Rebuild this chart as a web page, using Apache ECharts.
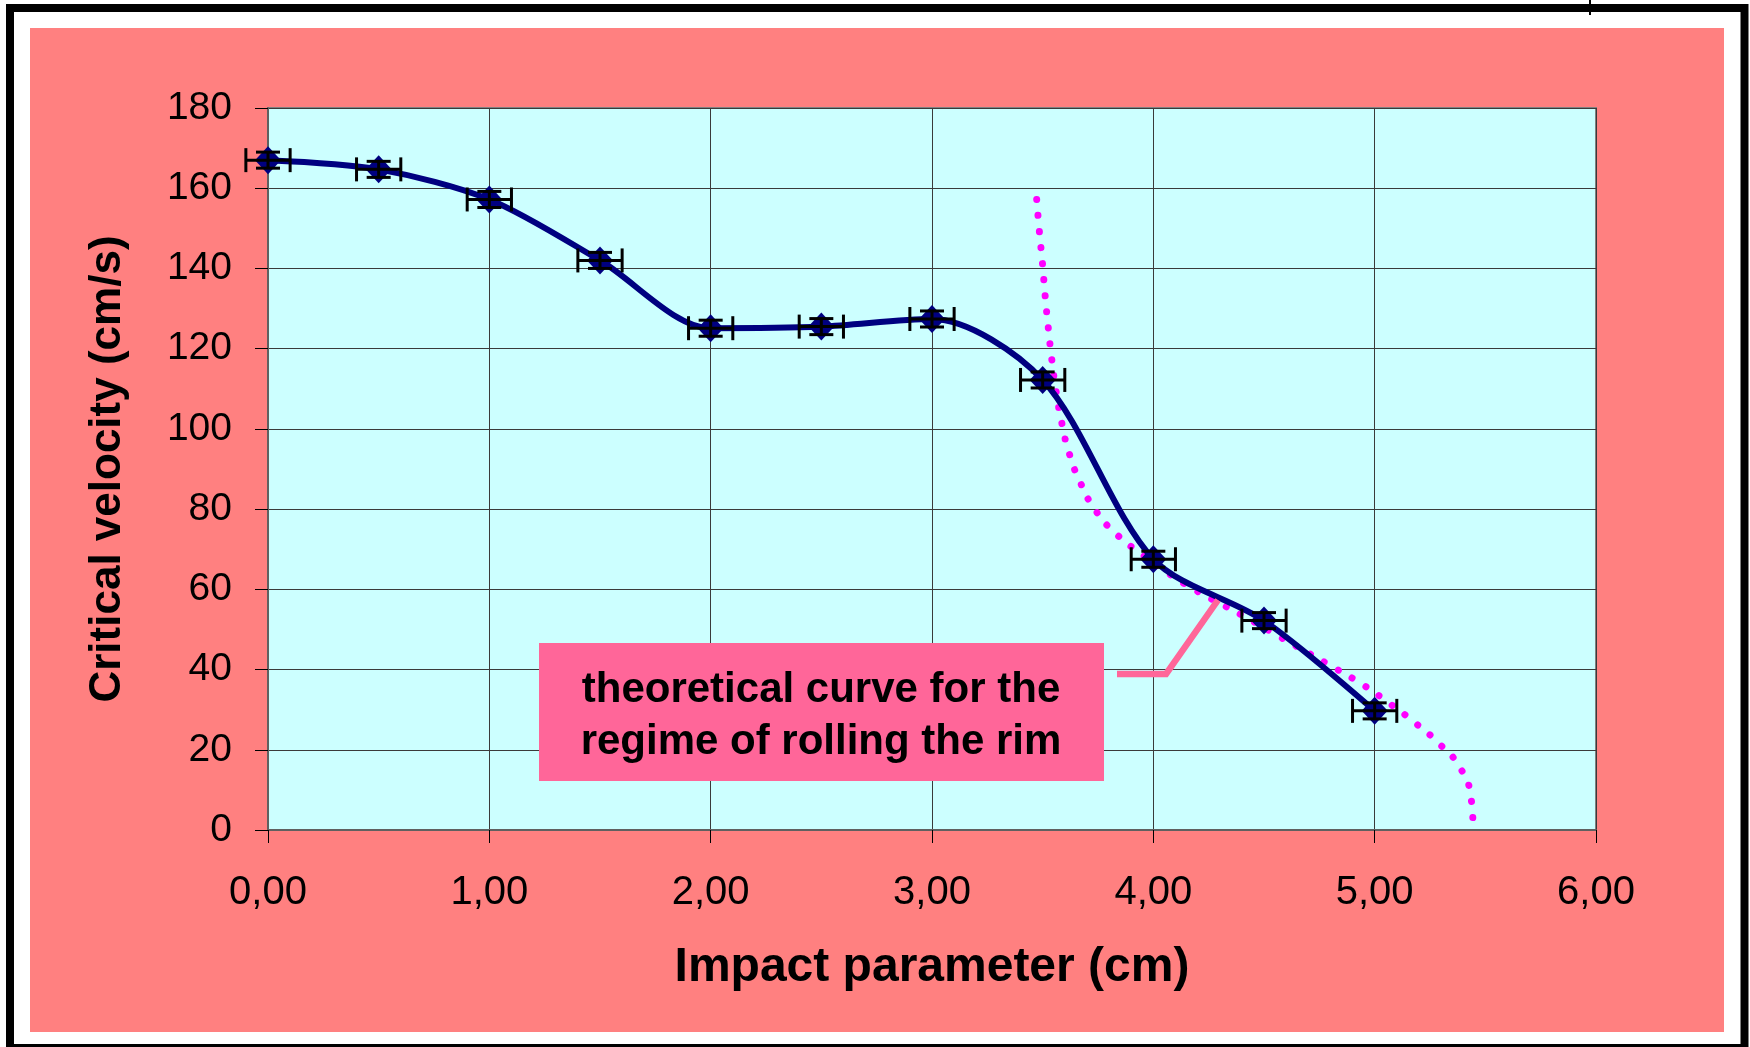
<!DOCTYPE html>
<html>
<head>
<meta charset="utf-8">
<title>Critical velocity vs impact parameter</title>
<script src="https://cdn.jsdelivr.net/npm/echarts@6/dist/echarts.min.js"></script>
<style>
  html, body { margin: 0; padding: 0; background: #ffffff; }
  #chartContainer { width: 1750px; height: 1047px; }
</style>
</head>
<body>
<div id="chartContainer"></div>
<script>
"use strict"

// measured points (impact parameter in cm, critical velocity in cm/s)
const impactParameter = [0, 0.5, 1, 1.5, 2, 2.5, 3, 3.5, 4, 4.5, 5];
const criticalVelocity = [167, 164.7, 157.2, 142, 125.1, 125.5, 127.4, 112.2, 67.5, 52.2, 29.7];
const xError = [0.1, 0.1, 0.1, 0.1, 0.1, 0.1, 0.1, 0.1, 0.1, 0.1, 0.1];
const yError = [2, 2, 2, 2, 2, 2, 2, 2, 2, 2, 2];

// theoretical curve, rolling the rim
const theoryX = [3.473, 3.485, 3.499, 3.511, 3.525, 3.541, 3.56, 3.586, 3.62, 3.672, 3.741, 3.838, 3.952,
                 4.068, 4.193, 4.318, 4.445, 4.57, 4.695, 4.822, 4.947, 5.066, 5.181, 5.29, 5.385, 5.435, 5.445];
const theoryY = [157.2, 149.3, 141.3, 133.3, 125.4, 117.4, 109.6, 101.6, 93.9, 86.4, 79.5, 73.5, 68.6,
                 64.0, 59.7, 56.0, 52.2, 48.2, 44.3, 40.3, 36.2, 31.6, 26.8, 21.6, 15.6, 8.2, 0];

const yTicks = [0, 20, 40, 60, 80, 100, 120, 140, 160, 180];
const xTicks = [0, 1, 2, 3, 4, 5, 6];

const calloutText = "theoretical curve for the\nregime of rolling the rim";

const measured = impactParameter.map((x, i) => [x, criticalVelocity[i]]);
const errorData = impactParameter.map((x, i) => [x, criticalVelocity[i], xError[i], yError[i]]);
const theory = theoryX.map((x, i) => [x, theoryY[i]]);

const renderErrorBar = (params, api) => {
    const x = api.value(0);
    const y = api.value(1);
    const ex = api.value(2);
    const ey = api.value(3);
    const left = api.coord([x - ex, y]);
    const right = api.coord([x + ex, y]);
    const top = api.coord([x, y + ey]);
    const bottom = api.coord([x, y - ey]);
    const capH = 12;
    const capW = 12;
    const style = { stroke: "#000000", lineWidth: 3 };
    const seg = (x1, y1, x2, y2) => ({ type: "line", shape: { x1, y1, x2, y2 }, style });
    return {
        type: "group",
        children: [
            seg(left[0], left[1], right[0], right[1]),
            seg(left[0], left[1] - capH, left[0], left[1] + capH),
            seg(right[0], right[1] - capH, right[0], right[1] + capH),
            seg(top[0], top[1], bottom[0], bottom[1]),
            seg(top[0] - capW, top[1], top[0] + capW, top[1]),
            seg(bottom[0] - capW, bottom[1], bottom[0] + capW, bottom[1])
        ]
    };
};

const chart = echarts.init(document.getElementById("chartContainer"));

chart.setOption({
    animation: false,
    backgroundColor: "#ffffff",
    grid: {
        left: 268,
        top: 108,
        right: 154,
        bottom: 217,
        show: true,
        backgroundColor: "#CCFFFF",
        borderColor: "#808080",
        borderWidth: 2
    },
    xAxis: {
        type: "value",
        min: xTicks[0],
        max: xTicks[xTicks.length - 1],
        interval: 1,
        name: "Impact parameter (cm)",
        nameLocation: "middle",
        nameGap: 114,
        nameTextStyle: { fontFamily: "Liberation Sans", fontWeight: "bold", fontSize: 48, color: "#000000" },
        axisLine: { lineStyle: { color: "#606060", width: 2 } },
        axisTick: { show: true, length: 13, lineStyle: { color: "#000000", width: 1 } },
        axisLabel: {
            margin: 43,
            fontFamily: "Liberation Sans",
            fontSize: 40,
            color: "#000000",
            formatter: (v) => v.toFixed(2).replace(".", ",")
        },
        splitLine: { show: true, lineStyle: { color: "#3a3a3a", width: 1 } }
    },
    yAxis: {
        type: "value",
        min: yTicks[0],
        max: yTicks[yTicks.length - 1],
        interval: 20,
        name: "Critical velocity (cm/s)",
        nameLocation: "middle",
        nameGap: 138,
        nameTextStyle: { fontFamily: "Liberation Sans", fontWeight: "bold", fontSize: 44, color: "#000000" },
        axisLine: { show: true, lineStyle: { color: "#606060", width: 2 } },
        axisTick: { show: true, length: 13, lineStyle: { color: "#000000", width: 1 } },
        axisLabel: { margin: 36, fontFamily: "Liberation Sans", fontSize: 39, color: "#000000" },
        splitLine: { show: true, lineStyle: { color: "#3a3a3a", width: 1 } }
    },
    series: [
        {
            name: "theory",
            type: "line",
            data: theory,
            smooth: true,
            showSymbol: false,
            z: 3,
            lineStyle: { color: "#FF00FF", width: 7, type: [0.1, 16], cap: "round" }
        },
        {
            name: "measured",
            type: "line",
            data: measured,
            smooth: 0.3,
            symbol: "diamond",
            symbolSize: [26, 28],
            z: 4,
            itemStyle: { color: "#000080" },
            lineStyle: { color: "#000080", width: 6 }
        },
        {
            name: "error",
            type: "custom",
            data: errorData,
            renderItem: renderErrorBar,
            z: 5
        }
    ],
    graphic: [
        { type: "rect", z: -10, shape: { x: 0, y: 0, width: 1750, height: 1047 }, style: { fill: "#ffffff" } },
        { type: "rect", z: -9, shape: { x: 30, y: 28, width: 1694, height: 1004 }, style: { fill: "#FF8080" } },
        { type: "rect", z: 10, shape: { x: 10, y: 8, width: 1734.5, height: 1040 }, style: { fill: null, stroke: "#000000", lineWidth: 8 } },
        { type: "line", z: 10, shape: { x1: 1590, y1: 0, x2: 1590, y2: 15 }, style: { stroke: "#000000", lineWidth: 2 } },
        {
            type: "polyline",
            z: 20,
            shape: { points: [[1117, 674], [1166, 674], [1218, 600]] },
            style: { stroke: "#FF6699", lineWidth: 6.5, fill: null }
        },
        { type: "rect", z: 20, shape: { x: 539, y: 643, width: 565, height: 138 }, style: { fill: "#FF6699" } },
        {
            type: "text",
            z: 21,
            x: 821,
            y: 716,
            style: {
                text: calloutText,
                fontFamily: "Liberation Sans",
                fontWeight: "bold",
                fontSize: 42,
                lineHeight: 52,
                fill: "#000000",
                align: "center",
                verticalAlign: "middle"
            }
        }
    ]
});
</script>
</body>
</html>
